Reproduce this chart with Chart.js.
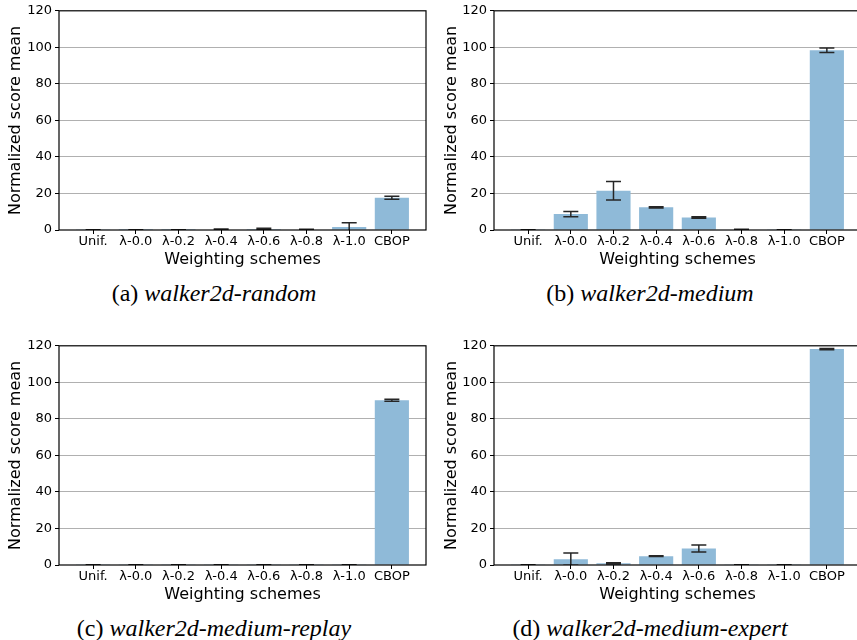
<!DOCTYPE html>
<html><head><meta charset="utf-8">
<script src="https://cdn.jsdelivr.net/npm/chart.js@4"></script>
<style>
html,body{margin:0;padding:0;background:#fff;overflow:hidden;width:857px;height:640px;position:relative}
canvas{position:absolute}
.cap{position:absolute;font-family:'Liberation Serif','Times New Roman',serif;font-size:24px;line-height:24px;white-space:nowrap;transform:translateX(-50%);color:#000}
.cap i{font-style:italic}
</style></head><body>
<canvas id="ca" width="430" height="272" style="left:0;top:0"></canvas>
<canvas id="cb" width="434" height="272" style="left:430px;top:0"></canvas>
<canvas id="cc" width="430" height="272" style="left:0;top:335px"></canvas>
<canvas id="cd" width="434" height="272" style="left:430px;top:335px"></canvas>
<div class="cap" style="left:214px;top:281px">(a) <i>walker2d-random</i></div>
<div class="cap" style="left:650px;top:281px">(b) <i>walker2d-medium</i></div>
<div class="cap" style="left:214px;top:616px">(c) <i>walker2d-medium-replay</i></div>
<div class="cap" style="left:650px;top:616px">(d) <i>walker2d-medium-expert</i></div>
<script>
const categories = ['Unif.', 'λ-0.0', 'λ-0.2', 'λ-0.4', 'λ-0.6', 'λ-0.8', 'λ-1.0', 'CBOP'];
const yTicks = [0, 20, 40, 60, 80, 100, 120];

const randomMean = [0.1, 0.05, 0.05, 0.3, 0.6, 0.25, 1.7, 17.7];
const randomErr  = [0.05, 0.05, 0.05, 0.2, 0.3, 0.15, 2.3, 0.8];

const mediumMean = [0.1, 8.7, 21.5, 12.4, 6.9, 0.3, 0.1, 98.4];
const mediumErr  = [0.05, 1.4, 5.1, 0.3, 0.4, 0.1, 0.05, 1.2];

const replayMean = [0.1, 0.1, 0.1, 0.1, 0.1, 0.1, 0.1, 90.2];
const replayErr  = [0.05, 0.05, 0.05, 0.05, 0.05, 0.05, 0.05, 0.5];

const expertMean = [0.1, 3.2, 0.9, 4.8, 9.0, 0.1, 0.1, 118.2];
const expertErr  = [0.05, 3.4, 0.3, 0.2, 1.9, 0.05, 0.05, 0.3];

const BAR_COLOR = '#8fbad8';
Chart.defaults.font.family = "'DejaVu Sans', sans-serif";
Chart.defaults.color = '#000';

const errPlugin = {
  id: 'errbars',
  afterDatasetsDraw(chart, args, opts) {
    const {ctx, chartArea: a, scales: {x, y}} = chart;
    const pts = chart.data.datasets[0].data;
    const errs = opts.errors;
    const cap = 7.5;
    ctx.save();
    ctx.beginPath();
    ctx.rect(a.left, a.top, a.right - a.left, a.bottom - a.top);
    ctx.clip();
    ctx.strokeStyle = '#262626';
    ctx.lineWidth = 1.5;
    pts.forEach((p, i) => {
      const px = x.getPixelForValue(p.x);
      const y1 = y.getPixelForValue(p.y + errs[i]);
      const y2 = y.getPixelForValue(p.y - errs[i]);
      ctx.beginPath();
      ctx.moveTo(px, y1); ctx.lineTo(px, y2);
      ctx.moveTo(px - cap, y1); ctx.lineTo(px + cap, y1);
      ctx.moveTo(px - cap, y2); ctx.lineTo(px + cap, y2);
      ctx.stroke();
    });
    ctx.restore();
    ctx.save();
    ctx.strokeStyle = '#000';
    ctx.lineWidth = 1.2;
    ctx.strokeRect(a.left, a.top, a.right - a.left, a.bottom - a.top);
    ctx.restore();
  }
};

function make(id, means, errs, yAxisW, yTitlePad, padRight) {
  new Chart(document.getElementById(id), {
    type: 'bar',
    data: {
      datasets: [{
        data: means.map((v, i) => ({x: i, y: v})),
        backgroundColor: BAR_COLOR,
        borderWidth: 0,
        barPercentage: 0.8,
        categoryPercentage: 1.0
      }]
    },
    plugins: [errPlugin],
    options: {
      responsive: false,
      animation: false,
      events: [],
      layout: {padding: {left: 0, top: 7, right: padRight, bottom: 0}},
      plugins: {
        legend: {display: false},
        tooltip: {enabled: false},
        errbars: {errors: errs}
      },
      scales: {
        x: {
          type: 'linear',
          min: -0.8,
          max: 7.8,
          offset: false,
          afterBuildTicks: s => { s.ticks = categories.map((_, i) => ({value: i})); },
          afterFit: s => { s.height = 42; },
          ticks: {
            callback: v => categories[Math.round(v)],
            autoSkip: false, maxRotation: 0, minRotation: 0,
            padding: 0, font: {size: 13}, color: '#000'
          },
          grid: {offset: false, drawOnChartArea: false, drawTicks: true, tickLength: 4, tickColor: '#000', lineWidth: 1},
          border: {display: false},
          title: {display: true, text: 'Weighting schemes', font: {size: 16}, color: '#000', padding: {top: 0, bottom: 3}}
        },
        y: {
          min: 0, max: 120,
          afterBuildTicks: s => { s.ticks = yTicks.map(v => ({value: v})); },
          afterFit: s => { s.width = yAxisW; },
          ticks: {font: {size: 13}, padding: 3, color: '#000'},
          grid: {
            color: c => (c.tick && (c.tick.value === 0 || c.tick.value === 120)) ? 'rgba(0,0,0,0)' : '#b0b0b0',
            lineWidth: 1, tickLength: 4, tickColor: '#000'
          },
          border: {display: false},
          title: {display: true, text: 'Normalized score mean', font: {size: 16}, color: '#000', padding: {top: yTitlePad, bottom: 0}}
        }
      }
    }
  });
}

make('ca', randomMean, randomErr, 59, 6.7, 4);
make('cb', mediumMean, mediumErr, 64, 12, 3);
make('cc', replayMean, replayErr, 59, 6.7, 4);
make('cd', expertMean, expertErr, 64, 12, 3);
</script>
</body></html>
